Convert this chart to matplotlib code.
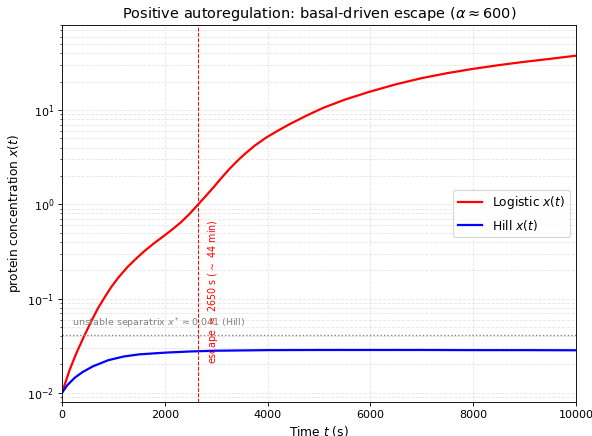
import matplotlib
matplotlib.use("Agg")
import matplotlib.pyplot as plt

# values
t_logistic = [0, 150, 280, 440, 600, 700, 800, 880, 960, 1100, 1280, 1450, 1600,
              1800, 2000, 2160, 2320, 2480, 2650, 2800, 2950, 3100, 3250, 3400,
              3550, 3750, 3970, 4200, 4420, 4750, 5070, 5500, 5975, 6500, 7010,
              7500, 7980, 8500, 8950, 9500, 10000]
x_logistic = [0.01, 0.0176, 0.0264, 0.041, 0.062, 0.079, 0.097, 0.114, 0.133,
              0.168, 0.218, 0.268, 0.318, 0.39, 0.47, 0.55, 0.65, 0.79, 1.0,
              1.23, 1.52, 1.9, 2.35, 2.85, 3.4, 4.2, 5.1, 6.05, 7.05, 8.7, 10.5,
              12.9, 15.6, 18.8, 21.9, 24.7, 27.3, 30.0, 32.3, 35.0, 37.8]

t_hill = [0, 100, 250, 400, 600, 900, 1200, 1500, 2000, 2500, 3000, 4000,
          5000, 6000, 7000, 8000, 9000, 10000]
x_hill = [0.01, 0.012, 0.0145, 0.0166, 0.0191, 0.0222, 0.0243, 0.0256, 0.0267,
          0.0275, 0.028, 0.0284, 0.0285, 0.0285, 0.0285, 0.0284, 0.0284, 0.0283]

x_star = 0.041
t_escape = 2650

fig = plt.figure(figsize=(7.4, 5.45), dpi=80)
ax = fig.add_axes([0.1047, 0.078, 0.8683, 0.8647])

ax.plot(t_logistic, x_logistic, color="red", lw=2, label="Logistic $x(t)$")
ax.plot(t_hill, x_hill, color="blue", lw=2, label="Hill $x(t)$")

ax.axhline(x_star, color="gray", ls=":", lw=1.2)
ax.text(200, x_star * 1.12, r"unstable separatrix $x^*\approx 0.041$ (Hill)",
        color="gray", fontsize=8.5, va="bottom")

ax.axvline(t_escape, color="red", ls="--", lw=0.9)
ax.text(t_escape + 150, 0.02, r"escape $\approx$ 2650 s ($\sim$ 44 min)",
        color="red", fontsize=8.7, rotation=90, va="bottom", ha="left")

ax.set_yscale("log")
ax.set_xlim(0, 10000)
ax.set_ylim(8e-3, 80)
ax.grid(True, which="both", ls="--", alpha=0.3)
ax.set_xlabel("Time $t$ (s)", fontsize=11)
ax.set_ylabel("protein concentration $x(t)$", fontsize=11)
ax.set_title(r"Positive autoregulation: basal-driven escape ($\alpha \approx 600$)", fontsize=13)
ax.legend(loc="center right", fontsize=11)

fig.savefig("out.png", dpi=80)
